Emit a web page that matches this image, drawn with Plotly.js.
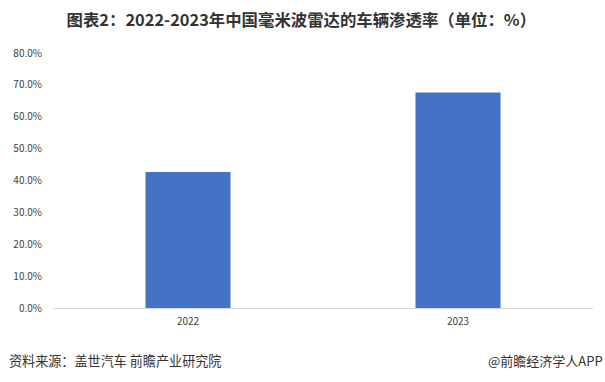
<!DOCTYPE html>
<html>
<head>
<meta charset="utf-8">
<script src="https://cdn.plot.ly/plotly-3.0.1.min.js"></script>
<style>html,body{margin:0;padding:0;background:#fff;}#chart{width:605px;height:382px;}</style>
</head>
<body>
<div id="chart"></div>
<script>
const categories = ['2022', '2023'];
const penetration = [42.7, 67.6];
const yTickVals = [0, 10, 20, 30, 40, 50, 60, 70, 80];
const yTickText = ['0.0%', '10.0%', '20.0%', '30.0%', '40.0%', '50.0%', '60.0%', '70.0%', '80.0%'];
const titleText = '图表2：2022-2023年中国毫米波雷达的车辆渗透率（单位：%）';
const sourceText = '资料来源：盖世汽车 前瞻产业研究院';
const brandText = '@前瞻经济学人APP';

const font = '"Noto Sans CJK SC", "Microsoft YaHei", sans-serif';

Plotly.newPlot('chart', [{
  type: 'bar',
  x: categories,
  y: penetration,
  marker: {color: '#4472C4'},
  width: 0.315,
  hoverinfo: 'none'
}], {
  width: 605, height: 382,
  margin: {l: 53, r: 12, t: 53, b: 73.5},
  paper_bgcolor: '#ffffff', plot_bgcolor: '#ffffff',
  showlegend: false,
  title: {
    text: '<b>' + titleText + '</b>',
    x: 0.498, xref: 'container', xanchor: 'center',
    y: 0.946, yref: 'container', yanchor: 'middle',
    font: {family: font, size: 16.4, color: '#333333'}
  },
  xaxis: {
    type: 'category',
    showgrid: false, zeroline: false,
    showline: true, linecolor: '#d9d9d9', linewidth: 1,
    ticks: '', tickfont: {family: font, size: 10, color: '#404040'},
    ticklabelstandoff: 4
  },
  yaxis: {
    range: [0, 80],
    tickvals: yTickVals, ticktext: yTickText,
    showgrid: false, zeroline: false, showline: false,
    ticks: '', tickfont: {family: font, size: 10, color: '#404040'},
    ticklabelstandoff: 10
  },
  annotations: [
    {text: sourceText, xref: 'paper', yref: 'paper', x: -0.085, y: -0.205,
     xanchor: 'left', yanchor: 'middle', showarrow: false,
     font: {family: font, size: 13.1, color: '#333333'}},
    {text: brandText, xref: 'paper', yref: 'paper', x: 1.0222, y: -0.205,
     xanchor: 'right', yanchor: 'middle', showarrow: false,
     font: {family: font, size: 13, color: '#333333'}}
  ]
}, {staticPlot: true});
</script>
</body>
</html>
